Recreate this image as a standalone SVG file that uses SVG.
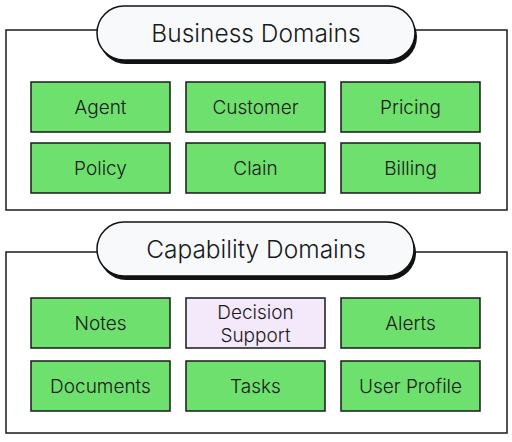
<svg xmlns="http://www.w3.org/2000/svg" width="512" height="442" viewBox="0 0 512 442">
<style>
.frame{fill:#ffffff;stroke:#1a1a1a;stroke-width:1.5}
.pill{fill:#f8f9fb;stroke:#111;stroke-width:1.5}
.shadow{fill:#111}
.title{font-family:Inter,"Noto Sans",sans-serif;font-weight:300;font-size:24.5px;fill:#1a1a1a;text-anchor:middle;dominant-baseline:central}
.node rect{fill:#6ee06e;stroke:#1a1a1a;stroke-width:1.5}
.node.alt rect{fill:#f4e9fb}
.node text{font-family:Inter,"Noto Sans",sans-serif;font-weight:300;font-size:19px;fill:#1a1a1a;text-anchor:middle;dominant-baseline:central}
</style>
<rect width="512" height="442" fill="#ffffff"/>
<g id="business">
<rect class="frame" x="6" y="30" width="501" height="180"/>
<rect class="shadow" x="99" y="10" width="318" height="54" rx="27"/>
<rect class="pill" x="97" y="6" width="318" height="54" rx="27"/>
<text class="title" x="256" y="33">Business Domains</text>
</g>
<g id="capability">
<rect class="frame" x="6" y="252" width="501" height="181"/>
<rect class="shadow" x="99" y="226" width="317" height="54" rx="27"/>
<rect class="pill" x="97" y="222" width="317" height="54" rx="27"/>
<text class="title" x="256" y="249">Capability Domains</text>
</g>
<g id="agent" class="node"><rect x="31" y="82" width="139" height="50"/><text x="100.5" y="107">Agent</text></g>
<g id="customer" class="node"><rect x="186" y="82" width="139" height="50"/><text x="255.5" y="107">Customer</text></g>
<g id="pricing" class="node"><rect x="341" y="82" width="139" height="50"/><text x="410.5" y="107">Pricing</text></g>
<g id="policy" class="node"><rect x="31" y="143" width="139" height="50"/><text x="100.5" y="168">Policy</text></g>
<g id="clain" class="node"><rect x="186" y="143" width="139" height="50"/><text x="255.5" y="168">Clain</text></g>
<g id="billing" class="node"><rect x="341" y="143" width="139" height="50"/><text x="410.5" y="168">Billing</text></g>
<g id="notes" class="node"><rect x="31" y="298" width="139" height="50"/><text x="100.5" y="323">Notes</text></g>
<g id="decision" class="node alt"><rect x="186" y="298" width="139" height="50"/><text x="255.5" y="312">Decision</text><text x="255.5" y="335">Support</text></g>
<g id="alerts" class="node"><rect x="341" y="298" width="139" height="50"/><text x="410.5" y="323">Alerts</text></g>
<g id="documents" class="node"><rect x="31" y="361" width="139" height="50"/><text x="100.5" y="386">Documents</text></g>
<g id="tasks" class="node"><rect x="186" y="361" width="139" height="50"/><text x="255.5" y="386">Tasks</text></g>
<g id="userprofile" class="node"><rect x="341" y="361" width="139" height="50"/><text x="410.5" y="386">User Profile</text></g>
<g id="connectors"></g>
</svg>
